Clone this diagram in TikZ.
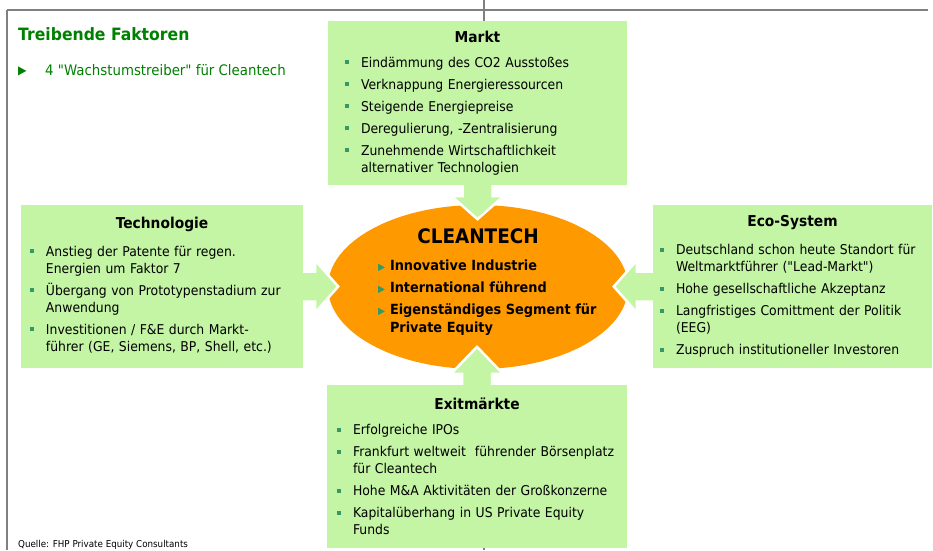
\documentclass[tikz,border=0pt]{standalone}
\usepackage{fontspec}
\setmainfont{DejaVu Sans}[FakeStretch=0.92]
\newfontfamily\quotefont{DejaVu Sans}[FakeStretch=0.92]
\usetikzlibrary{shapes.geometric}
\definecolor{boxgreen}{RGB}{195,245,165}
\definecolor{cleanorange}{RGB}{255,153,0}
\definecolor{titlegreen}{RGB}{0,128,0}
\definecolor{bulletgreen}{RGB}{51,153,102}
\definecolor{framegray}{RGB}{128,128,128}
\newcommand{\gq}{{\quotefont"}}
\newcommand{\boxtitel}[2][3pt]{{\noindent\centering\fontsize{15}{17}\selectfont\bfseries #2\par}\vspace{#1}}
\newcommand{\sqitem}[1]{\par\vspace{5pt}\hangindent=16pt\hangafter=1\noindent\makebox[16pt][l]{\textcolor{bulletgreen}{\rule[3pt]{4pt}{4pt}}}#1\par}
\newcommand{\dreieck}[1]{\par\vspace{4pt}\hangindent=12pt\hangafter=1\noindent\makebox[12pt][l]{\textcolor{bulletgreen}{\fontsize{10}{10}\selectfont\raisebox{0.5pt}{▶}}}#1\par}
\newcommand{\unten}[1]{\par\kern#1\hrule height0pt width0pt}
\tikzset{
  faktor/.style={rectangle, fill=boxgreen, inner ysep=0pt, font=\fontsize{13.5}{17}\selectfont},
  rahmen/.style={draw=framegray, line width=1.2pt},
  pfeil/.style={fill=boxgreen},
  pfeilrand/.style={draw=white, line width=2.5pt, line join=miter},
  pics/blockpfeil/.style 2 args={code={
    \fill[pfeil] (0,-15) -- (#1,-15) -- (#1,-26) -- (#1+#2,0) -- (#1,26) -- (#1,15) -- (0,15) -- cycle;
    \draw[pfeilrand] (0,-15) -- (#1,-15) -- (#1,-26) -- (#1+#2,0) -- (#1,26) -- (#1,15) -- (0,15);
  }}
}
\begin{document}
\begin{tikzpicture}[x=1pt,y=1pt]
\useasboundingbox (0,0) rectangle (933,-550);
\draw[rahmen] (7,-10) -- (928,-10);
\draw[rahmen] (7,-10) -- (7,-550);
\draw[rahmen] (484,0) -- (484,-21);
\draw[rahmen] (484,-548) -- (484,-550);

\node[anchor=base west, inner sep=0pt, text=titlegreen, font=\fontsize{17}{20}\selectfont\bfseries] (titel) at (18,-40) {Treibende Faktoren};
\node[anchor=base west, inner sep=0pt, text=titlegreen, font=\fontsize{14.5}{17}\selectfont] (treiber) at (18,-75) {\makebox[27pt][l]{\fontsize{12}{12}\selectfont\raisebox{1pt}{▶}}4 \gq Wachstumstreiber\gq{} für Cleantech};

\node[ellipse, fill=cleanorange, minimum width=300pt, minimum height=164pt, inner sep=0pt, text width=200pt, font=\fontsize{14}{18}\selectfont\bfseries] (cleantech) at (478,-287) {{\noindent\centering\fontsize{20}{20}\selectfont CLEANTECH\par}\vspace{5pt}
\dreieck{Innovative Industrie}
\dreieck{International führend}
\dreieck{\mbox{Eigenständiges Segment für}\newline Private Equity}
\unten{9pt}};

\node[faktor, minimum width=299pt, minimum height=164pt, inner xsep=17pt, text width=265pt] (markt) at (477.5,-103) {\boxtitel{Markt}
\sqitem{Eindämmung des CO2 Ausstoßes}
\sqitem{Verknappung Energieressourcen}
\sqitem{Steigende Energiepreise}
\sqitem{Deregulierung, -Zentralisierung}
\sqitem{Zunehmende Wirtschaftlichkeit\newline alternativer Technologien}};

\node[faktor, minimum width=282pt, minimum height=163pt, inner xsep=9pt, text width=264pt] (technologie) at (162,-286.5) {\boxtitel[6pt]{Technologie}
\sqitem{Anstieg der Patente für regen.\newline Energien um Faktor 7}
\sqitem{Übergang von Prototypenstadium zur\newline Anwendung}
\sqitem{Investitionen / F\&E durch Markt-\newline führer (GE, Siemens, BP, Shell, etc.)}
\unten{3pt}};

\node[faktor, minimum width=279pt, minimum height=163pt, inner xsep=7pt, text width=265pt] (eco) at (792.5,-286.5) {\boxtitel[6pt]{Eco-System}
\sqitem{Deutschland schon heute Standort für\newline Weltmarktführer (\gq Lead-Markt\gq)}
\sqitem{Hohe gesellschaftliche Akzeptanz}
\sqitem{Langfristiges Comittment der Politik\newline (EEG)}
\sqitem{Zuspruch institutioneller Investoren}};

\node[faktor, minimum width=300pt, minimum height=163pt, inner xsep=10pt, text width=280pt] (exit) at (477,-466.5) {\boxtitel{Exitmärkte}
\sqitem{Erfolgreiche IPOs}
\sqitem{Frankfurt weltweit \ führender Börsenplatz\newline für Cleantech}
\sqitem{Hohe M\&A Aktivitäten der Großkonzerne}
\sqitem{Kapitalüberhang in US Private Equity\newline Funds}};

% Pfeile zur Mitte
\pic[rotate=-90] at (markt.south) {blockpfeil={11}{23}};
\pic at (technologie.east) {blockpfeil={12}{23}};
\pic[rotate=180] at (eco.west) {blockpfeil={16}{23}};
\pic[rotate=90] at (exit.north) {blockpfeil={11}{27}};

\node[anchor=base west, inner sep=0pt, font=\fontsize{9.5}{11}\selectfont] (quelle) at (18,-547) {Quelle: FHP Private Equity Consultants};
\end{tikzpicture}
\end{document}
